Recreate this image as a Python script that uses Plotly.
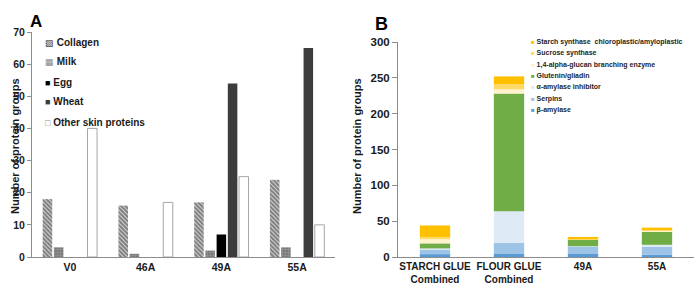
import numpy as np
import plotly.graph_objects as go

W, H = 695, 284


def px(x):
    return x / W


def py(y):
    return 1 - y / H


# ---------------- Panel A data ----------------
a_categories = ["V0", "46A", "49A", "55A"]
a_series = ["Collagen", "Milk", "Egg", "Wheat", "Other skin proteins"]
collagen = [18, 16, 17, 24]
milk = [3, 1, 2, 3]
egg = [0, 0, 7, 0]
wheat = [0, 0, 54, 65]
other_skin = [40, 17, 25, 10]
a_ticks = [0, 10, 20, 30, 40, 50, 60, 70]

# ---------------- Panel B data ----------------
b_categories = ["STARCH GLUE<br>Combined", "FLOUR GLUE<br>Combined", "49A", "55A"]
b_series = ["β-amylase", "Serpins", "α-amylase inhibitor", "Glutenin/gliadin",
            "1,4-alpha-glucan branching enzyme", "Sucrose synthase",
            "Starch synthase  chloroplastic/amyloplastic"]
beta_amylase = [4, 5, 5, 3]
serpins = [6, 15, 9, 12]
alpha_inhibitor = [2, 44, 1, 2]
glutenin = [7, 164, 10, 18]
branching = [6, 6, 0, 2]
sucrose = [3, 7, 1, 2]
starch_synthase = [16, 11, 2, 2]
b_ticks = [0, 50, 100, 150, 200, 250, 300]

FONT = "Liberation Sans, Arial, sans-serif"
TXT = "#1a1a1a"
AX = "#8c8c8c"

fig = go.Figure()

# ---- Panel A bars ----
a_values = [collagen, milk, egg, wheat, other_skin]
a_markers = [
    dict(color="white", pattern=dict(shape="\\", fgcolor="#1e1e1e", bgcolor="#e0e0e0", size=3, solidity=0.7),
         line=dict(width=0)),
    dict(color="#8f8f8f", pattern=dict(shape="+", fgcolor="#bdbdbd", bgcolor="#7a7a7a", size=3, solidity=0.3),
         line=dict(width=0)),
    dict(color="#000000", line=dict(width=0)),
    dict(color="#3c3c3c", line=dict(width=0)),
    dict(color="white", line=dict(width=1, color="#a6a6a6")),
]
for name, vals, mk in zip(a_series, a_values, a_markers):
    fig.add_trace(go.Bar(x=a_categories, y=vals, name=name, marker=mk,
                         xaxis="x", yaxis="y", showlegend=False, hoverinfo="skip"))

# ---- Panel B stacked bars ----
b_values = [beta_amylase, serpins, alpha_inhibitor, glutenin, branching, sucrose, starch_synthase]
b_colors = ["#5B9BD5", "#9DC3E6", "#DEEBF7", "#70AD47", "#FFF2CC", "#FFD966", "#FFC000"]
base = np.zeros(len(b_categories))
for name, vals, col in zip(b_series, b_values, b_colors):
    fig.add_trace(go.Bar(x=b_categories, y=vals, base=base.copy(), name=name,
                         marker=dict(color=col, line=dict(width=0)),
                         width=0.41, offset=-0.205, hoverinfo="skip",
                         xaxis="x2", yaxis="y2", showlegend=False))
    base = base + np.array(vals)

axis_common = dict(showgrid=False, zeroline=False, showline=True, linecolor=AX, linewidth=1,
                   automargin=False)

fig.update_layout(
    width=W, height=H,
    margin=dict(l=0, r=0, t=0, b=0, pad=0),
    paper_bgcolor="white", plot_bgcolor="white",
    barmode="group", bargap=0.26, bargroupgap=0.15,
    font=dict(family=FONT, color=TXT),
    xaxis=dict(domain=[px(32), px(335)], anchor="y", ticks="",
               tickfont=dict(size=10.5, family=FONT, color=TXT, weight="bold"), **axis_common),
    yaxis=dict(domain=[py(257), py(32)], anchor="x", range=[0, 70], tickvals=a_ticks,
               ticks="outside", ticklen=4, tickcolor=AX,
               tickfont=dict(size=10.5, family=FONT, color=TXT, weight="bold"), **axis_common),
    xaxis2=dict(domain=[px(398), px(694)], anchor="y2", ticks="",
                tickfont=dict(size=10, family=FONT, color=TXT, weight="bold"), **axis_common),
    yaxis2=dict(domain=[py(257), py(42)], anchor="x2", range=[0, 300], tickvals=b_ticks,
                ticks="outside", ticklen=5, tickcolor=AX,
                tickfont=dict(size=11.5, family=FONT, color=TXT, weight="bold"), **axis_common),
)

ann = []
# panel letters
ann.append(dict(x=px(28), y=py(10), text="<b>A</b>", showarrow=False, xref="paper", yref="paper",
                font=dict(size=17, family=FONT, color="#000")))
ann.append(dict(x=px(382), y=py(12), text="<b>B</b>", showarrow=False, xref="paper", yref="paper",
                font=dict(size=18, family=FONT, color="#000")))
# y titles
for xt in (7, 357):
    ann.append(dict(x=px(xt), y=py(146), text="<b>Number of protein groups</b>", textangle=-90,
                    showarrow=False, xref="paper", yref="paper",
                    font=dict(size=11, family=FONT, color=TXT)))

# legend A (manual)
a_glyphs = [("▨", "#3a3a3a"), ("▦", "#8a8a8a"), ("■", "#000000"), ("■", "#3c3c3c"), ("□", "#8a8a8a")]
for i, (name, (g, c)) in enumerate(zip(a_series, a_glyphs)):
    ann.append(dict(x=px(43), y=py(42 + 20 * i), xanchor="left", yanchor="middle",
                    text=f'<span style="color:{c};font-size:9px">{g}</span> <b>{name}</b>',
                    showarrow=False, xref="paper", yref="paper",
                    font=dict(size=10, family=FONT, color=TXT)))

# legend B (manual), top to bottom = reverse stacking order
for i, (name, col) in enumerate(zip(b_series[::-1], b_colors[::-1])):
    ann.append(dict(x=px(529), y=py(42 + 11.35 * i), xanchor="left", yanchor="middle",
                    text=f'<span style="color:{col};font-size:6px">■</span> <b>{name}</b>',
                    showarrow=False, xref="paper", yref="paper",
                    font=dict(size=7, family=FONT, color="#262626")))

fig.update_layout(annotations=ann)
fig.write_html("out.html", config={"displayModeBar": False},
               post_script="document.body.style.margin='0';document.body.style.padding='0';")
